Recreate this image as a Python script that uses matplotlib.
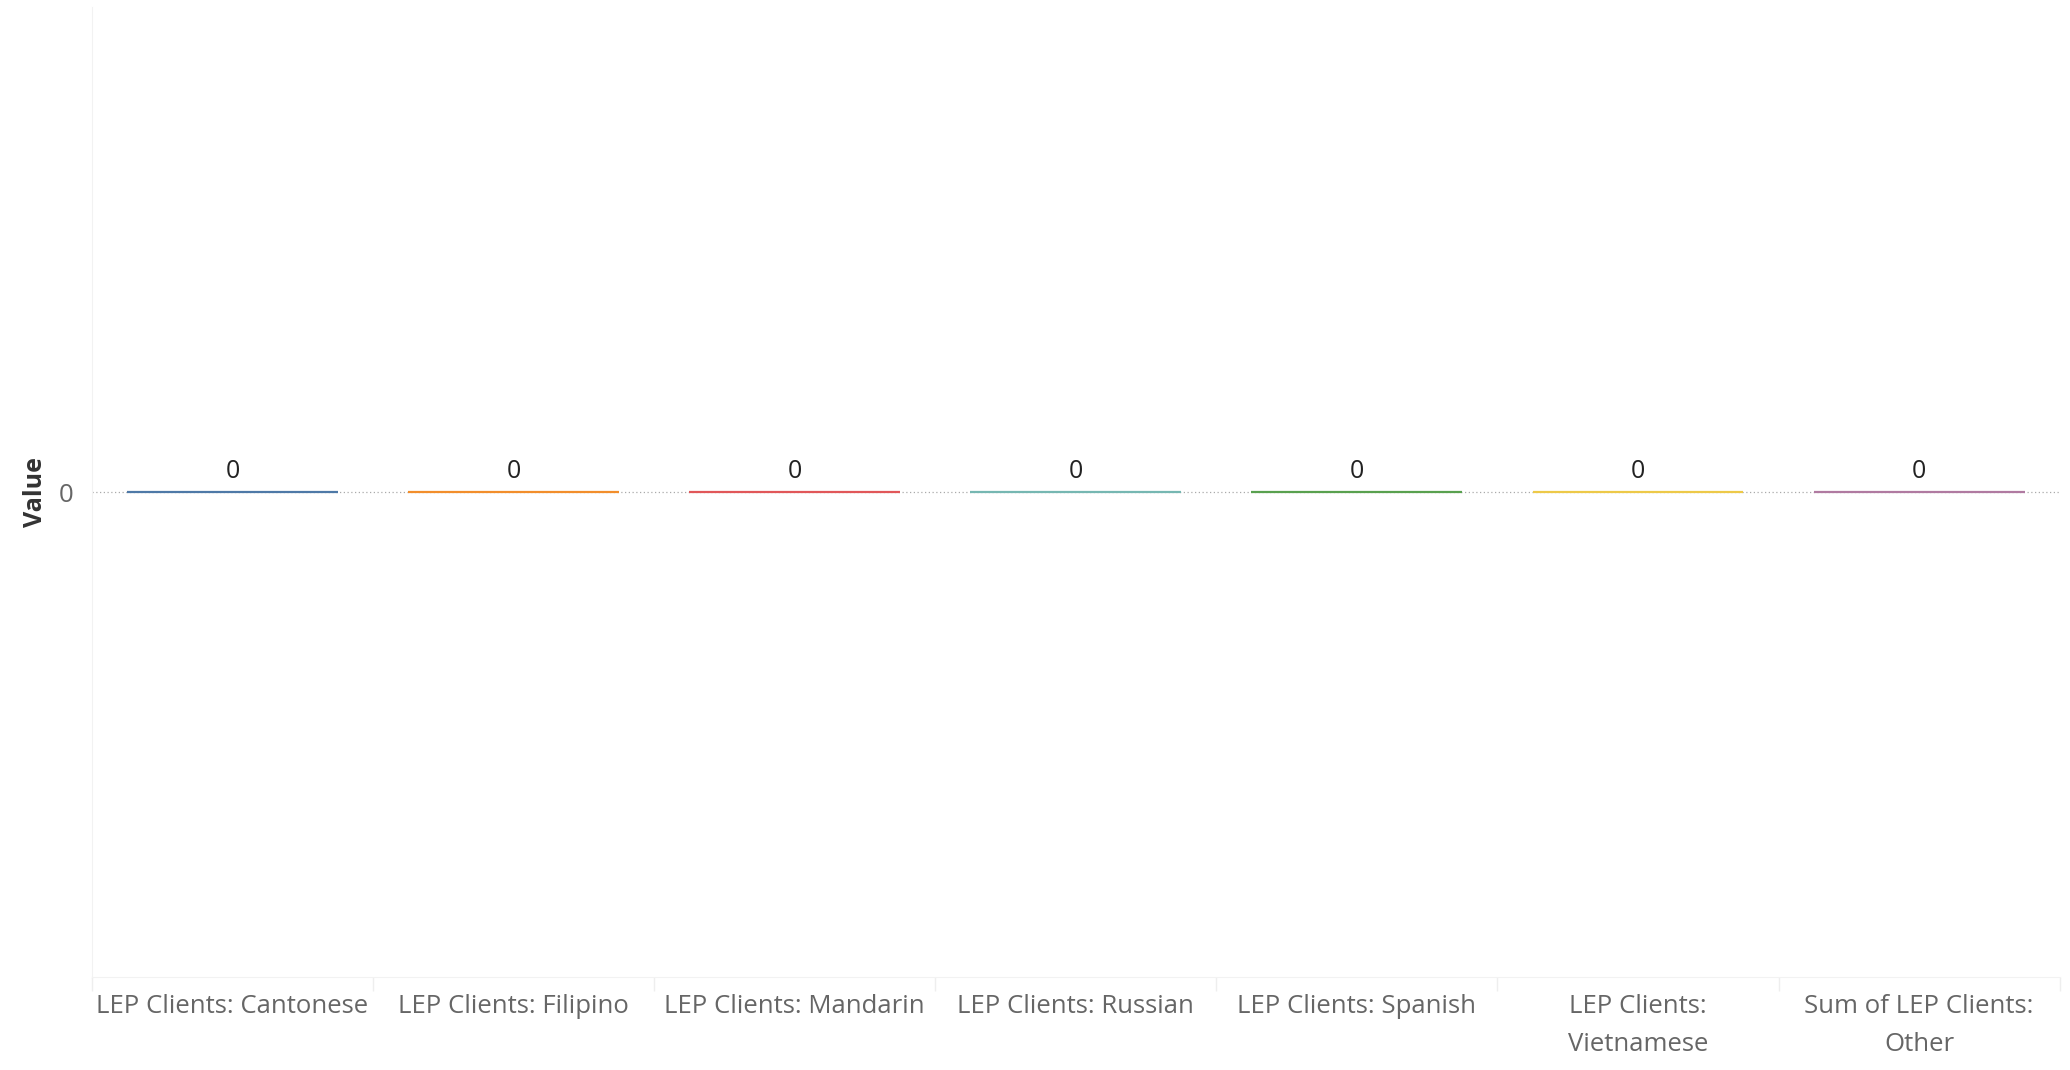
import matplotlib.pyplot as plt
import numpy as np

categories = ["LEP Clients: Cantonese", "LEP Clients: Filipino", "LEP Clients: Mandarin",
              "LEP Clients: Russian", "LEP Clients: Spanish", "LEP Clients:\nVietnamese",
              "Sum of LEP Clients:\nOther"]
values = [0, 0, 0, 0, 0, 0, 0]
colors = ["#4e79a7", "#f28e2b", "#e15759", "#76b7b2", "#59a14f", "#edc948", "#b07aa1"]

plt.rcParams['font.family'] = ['Open Sans', 'DejaVu Sans']

fig = plt.figure(figsize=(20.7, 10.7), dpi=100)
ax = fig.add_axes([0.0444, 0.087, 0.9506, 0.906])

x = np.arange(len(categories))
# zero-height bars, shown through their edge
ax.bar(x, values, width=0.75, color=colors, edgecolor=colors, linewidth=1.6, zorder=3)

for xi, v in zip(x, values):
    ax.annotate(str(v), (xi, v), xytext=(0, 6), textcoords="offset points",
                ha="center", va="bottom", fontsize=18, color="#222222")

ax.axhline(0, color="#aaaaaa", linestyle=(0, (1, 2)), linewidth=0.9, zorder=1)

ax.set_xlim(-0.5, len(categories) - 0.5)
ax.set_ylim(-1, 1)
ax.set_yticks([0])
ax.set_yticklabels(["0"])
ax.set_xticks(x)
ax.set_xticklabels(categories, linespacing=1.7)
ax.tick_params(axis="x", length=0, pad=12, labelsize=18.5, labelcolor="#666666")
ax.tick_params(axis="y", length=0, pad=13, labelsize=18.5, labelcolor="#666666")
ax.set_xticks(np.arange(len(categories) + 1) - 0.5, minor=True)
ax.tick_params(axis="x", which="minor", length=10, color="#eeeeee", width=1)
ax.set_ylabel("Value", fontsize=18, fontweight="bold", color="#333333", labelpad=8)

for s in ["top", "right"]:
    ax.spines[s].set_visible(False)
ax.spines["left"].set_color("#f2f2f2")
ax.spines["bottom"].set_color("#f2f2f2")

fig.savefig("out.png", dpi=100, facecolor="white")
